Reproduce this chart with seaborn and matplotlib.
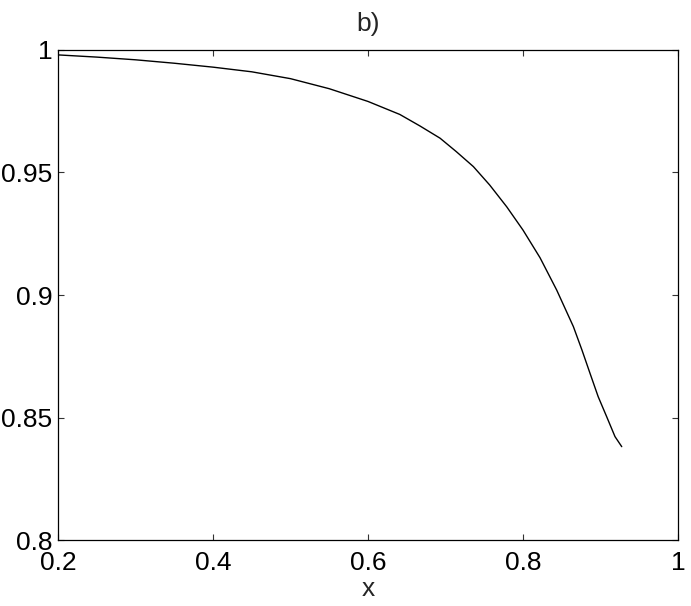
import pandas as pd
import matplotlib
matplotlib.use("Agg")
import matplotlib.pyplot as plt
import seaborn as sns

# values
x_vals = [0.20, 0.25, 0.30, 0.35, 0.40, 0.45, 0.50, 0.55, 0.60, 0.641, 0.667,
          0.693, 0.714, 0.736, 0.757, 0.779, 0.800, 0.822, 0.8435, 0.865,
          0.876, 0.8865, 0.897, 0.908, 0.9187, 0.9274]
y_vals = [0.998, 0.9971, 0.9960, 0.9946, 0.9930, 0.9911, 0.9883, 0.9842,
          0.9790, 0.9737, 0.9690, 0.9640, 0.9585, 0.9524, 0.9449, 0.9360,
          0.9265, 0.9152, 0.9020, 0.8871, 0.8776, 0.8680, 0.8585, 0.8503,
          0.8422, 0.8381]
x_ticks = [0.2, 0.4, 0.6, 0.8, 1.0]
x_tick_labels = ["0.2", "0.4", "0.6", "0.8", "1"]
y_ticks = [0.8, 0.85, 0.9, 0.95, 1.0]
y_tick_labels = ["0.8", "0.85", "0.9", "0.95", "1"]

df = pd.DataFrame({"x": x_vals, "y": y_vals})

sns.set_theme(style="white")
plt.rcParams["font.family"] = ["Liberation Sans", "DejaVu Sans"]

fig = plt.figure(figsize=(6.91, 6.06), dpi=100)
ax = fig.add_axes([0.0839, 0.1089, 0.8973, 0.8086])

sns.lineplot(data=df, x="x", y="y", color="black", linewidth=1.0, ax=ax,
             sort=False)

ax.set_xlim(0.2, 1.0)
ax.set_ylim(0.8, 1.0)
ax.set_xticks(x_ticks)
ax.set_xticklabels(x_tick_labels)
ax.set_yticks(y_ticks)
ax.set_yticklabels(y_tick_labels)

ax.tick_params(direction="in", length=4, width=0.8, color="#333333",
               labelsize=19, top=True, right=True, bottom=True, left=True,
               labelcolor="black")
ax.tick_params(axis="x", pad=8)
ax.tick_params(axis="y", pad=4)

for s in ax.spines.values():
    s.set_visible(True)
    s.set_color("black")
    s.set_linewidth(0.9)

ax.set_title("b)", fontsize=19, pad=14)
ax.set_xlabel("x", fontsize=19, labelpad=1)
ax.set_ylabel("")

plt.savefig("out.png", dpi=100)
plt.close()
